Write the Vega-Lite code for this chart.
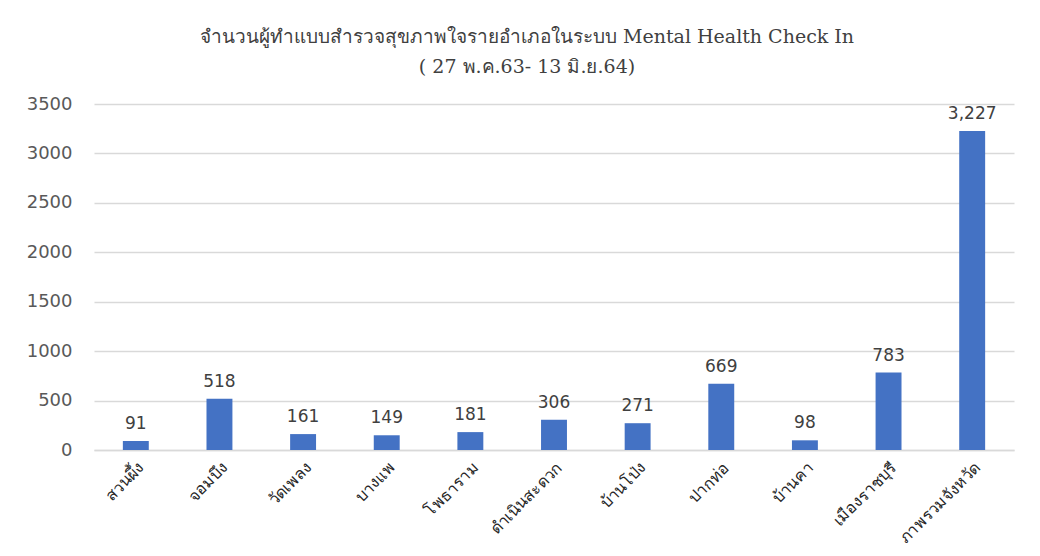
{
  "$schema": "https://vega.github.io/schema/vega-lite/v6.json",
  "width": 920,
  "height": 346,
  "autosize": {"type": "none"},
  "padding": {"left": 94, "top": 104, "right": 26, "bottom": 106},
  "background": "white",
  "title": {
    "text": "จำนวนผู้ทำแบบสำรวจสุขภาพใจรายอำเภอในระบบ Mental Health Check In",
    "subtitle": "( 27 พ.ค.63- 13 มิ.ย.64)",
    "anchor": "middle",
    "dx": -27,
    "offset": 18,
    "font": "DejaVu Serif",
    "fontSize": 19,
    "fontWeight": "normal",
    "color": "#404040",
    "subtitleFont": "DejaVu Serif",
    "subtitleFontSize": 19,
    "subtitleColor": "#404040",
    "subtitlePadding": 11
  },
  "data": {
    "values": [
      {"district": "สวนผึ้ง", "count": 91},
      {"district": "จอมบึง", "count": 518},
      {"district": "วัดเพลง", "count": 161},
      {"district": "บางแพ", "count": 149},
      {"district": "โพธาราม", "count": 181},
      {"district": "ดำเนินสะดวก", "count": 306},
      {"district": "บ้านโป่ง", "count": 271},
      {"district": "ปากท่อ", "count": 669},
      {"district": "บ้านคา", "count": 98},
      {"district": "เมืองราชบุรี", "count": 783},
      {"district": "ภาพรวมจังหวัด", "count": 3227}
    ]
  },
  "encoding": {
    "x": {
      "field": "district",
      "type": "nominal",
      "sort": null,
      "title": null,
      "scale": {"paddingInner": 0.69, "paddingOuter": 0.345},
      "axis": {
        "labelAngle": -45,
        "labelFont": "DejaVu Serif",
        "labelFontSize": 16,
        "labelColor": "#262626",
        "labelPadding": 9,
        "ticks": false,
        "domainColor": "#d9d9d9",
        "domainWidth": 1.5
      }
    },
    "y": {
      "field": "count",
      "type": "quantitative",
      "title": null,
      "scale": {"domain": [0, 3500]},
      "axis": {
        "values": [0, 500, 1000, 1500, 2000, 2500, 3000, 3500],
        "format": "d",
        "domain": false,
        "ticks": false,
        "labelPadding": 22,
        "labelFont": "DejaVu Sans",
        "labelFontSize": 18,
        "labelColor": "#595959",
        "gridColor": "#d9d9d9",
        "gridWidth": 1.5
      }
    }
  },
  "layer": [
    {"mark": {"type": "bar", "color": "#4472c4"}},
    {
      "mark": {"type": "text", "dy": -17, "font": "DejaVu Sans", "fontSize": 17, "color": "#404040"},
      "encoding": {"text": {"field": "count", "type": "quantitative", "format": ","}}
    }
  ],
  "config": {"view": {"stroke": null}}
}
